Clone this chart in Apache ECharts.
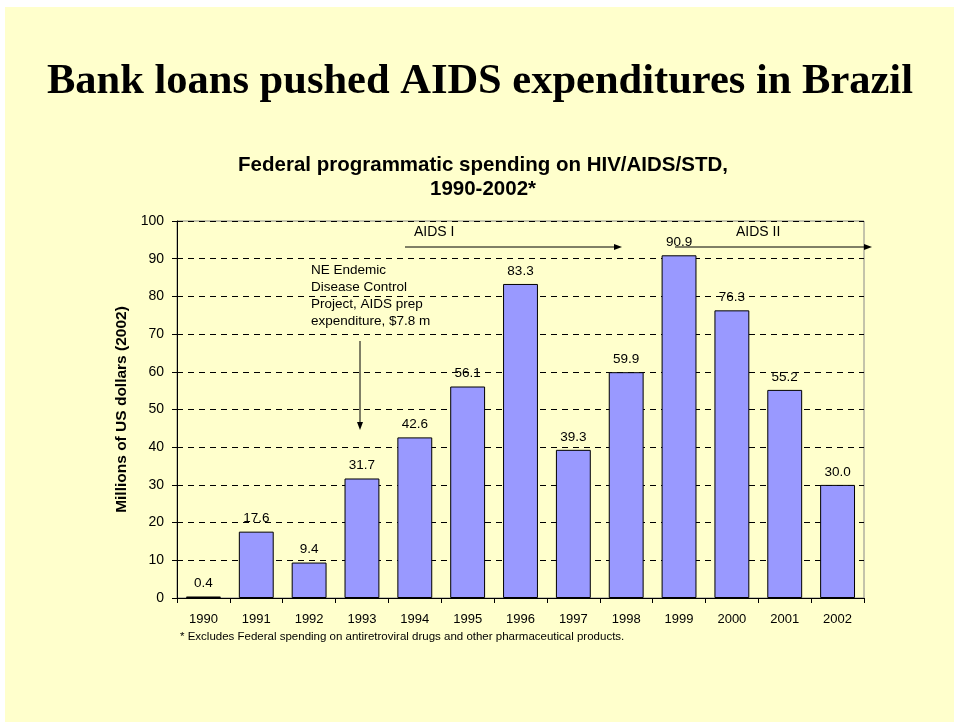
<!DOCTYPE html>
<html><head><meta charset="utf-8">
<script src="https://cdn.jsdelivr.net/npm/echarts@6/dist/echarts.min.js"></script>
<style>html,body{margin:0;padding:0;background:#fff;}#c{width:954px;height:722px;}</style>
</head><body><div id="c"></div>
<script>
const years = ['1990','1991','1992','1993','1994','1995','1996','1997','1998','1999','2000','2001','2002'];
const spending = [0.4, 17.6, 9.4, 31.7, 42.6, 56.1, 83.3, 39.3, 59.9, 90.9, 76.3, 55.2, 30.0];
const yTicks = [0,10,20,30,40,50,60,70,80,90,100];

const chart = echarts.init(document.getElementById('c'), null, {renderer:'canvas'});
const txt = '#000';
chart.setOption({
  backgroundColor: '#ffffff',
  animation: false,
  title: [
    {text: 'Bank loans pushed AIDS expenditures in Brazil', left: 475, textAlign: 'center', top: 56,
     textStyle: {fontFamily: 'Liberation Serif', fontWeight: 'bold', fontSize: 42.5, color: txt}},
    {text: 'Federal programmatic spending on HIV/AIDS/STD,\n1990-2002*', left: 478, textAlign: 'center', top: 148,
     textStyle: {fontFamily: 'Liberation Sans', fontWeight: 'bold', fontSize: 20.5, lineHeight: 24, color: txt}}
  ],
  grid: {left: 177, right: 90, top: 221, bottom: 124, show: true, borderColor: '#888', borderWidth: 1, backgroundColor: 'transparent'},
  xAxis: {
    type: 'category', data: years,
    axisLine: {lineStyle: {color: '#000', width: 1}},
    axisTick: {show: true, alignWithLabel: false, length: 5, lineStyle: {color: '#000'}},
    axisLabel: {fontFamily: 'Liberation Sans', fontSize: 13, color: txt, margin: 15}
  },
  yAxis: {
    type: 'value', min: 0, max: 100, interval: 10,
    name: 'Millions of US dollars (2002)', nameLocation: 'middle', nameGap: 47, nameRotate: 90,
    nameTextStyle: {fontFamily: 'Liberation Sans', fontWeight: 'bold', fontSize: 15.5, color: txt},
    axisLine: {show: true, lineStyle: {color: '#000', width: 1}},
    axisTick: {show: true, length: 5, lineStyle: {color: '#000'}},
    axisLabel: {fontFamily: 'Liberation Sans', fontSize: 14, color: txt, margin: 13,
      formatter: v => yTicks.includes(v) ? String(v) : ''},
    splitLine: {show: true, lineStyle: {color: '#000', type: [6,5], width: 1}}
  },
  series: [{
    type: 'bar', data: spending, barWidth: '66%',
    itemStyle: {color: '#9999FF', borderColor: '#000', borderWidth: 1},
    label: {show: true, position: 'top', distance: 6, fontFamily: 'Liberation Sans', fontSize: 13.5, color: txt,
      formatter: p => p.value.toFixed(1)}
  }],
  graphic: [
    {type: 'rect', z: -10, silent: true, shape: {x: 5, y: 7, width: 949, height: 715}, style: {fill: '#FFFFCC'}},
    {type: 'text', left: 414, top: 225, style: {text: 'AIDS I', font: '14px "Liberation Sans"', fill: txt}},
    {type: 'line', shape: {x1: 405, y1: 247, x2: 616, y2: 247}, style: {stroke: '#000', lineWidth: 1}},
    {type: 'polygon', shape: {points: [[622,247],[614,244],[614,250]]}, style: {fill: '#000'}},
    {type: 'text', left: 736, top: 225, style: {text: 'AIDS II', font: '14px "Liberation Sans"', fill: txt}},
    {type: 'line', shape: {x1: 675, y1: 247, x2: 866, y2: 247}, style: {stroke: '#000', lineWidth: 1}},
    {type: 'polygon', shape: {points: [[872,247],[864,244],[864,250]]}, style: {fill: '#000'}},
    {type: 'text', left: 311, top: 262, style: {text: 'NE Endemic\nDisease Control\nProject, AIDS prep\nexpenditure, $7.8 m', font: '13.5px "Liberation Sans"', lineHeight: 17, fill: txt}},
    {type: 'line', shape: {x1: 360, y1: 341, x2: 360, y2: 422}, style: {stroke: '#000', lineWidth: 1}},
    {type: 'polygon', shape: {points: [[360,430],[357,422],[363,422]]}, style: {fill: '#000'}},
    {type: 'text', left: 180, top: 631, style: {text: '* Excludes Federal spending on antiretroviral drugs and other pharmaceutical products.', font: '11.5px "Liberation Sans"', fill: txt}}
  ]
});
</script></body></html>
